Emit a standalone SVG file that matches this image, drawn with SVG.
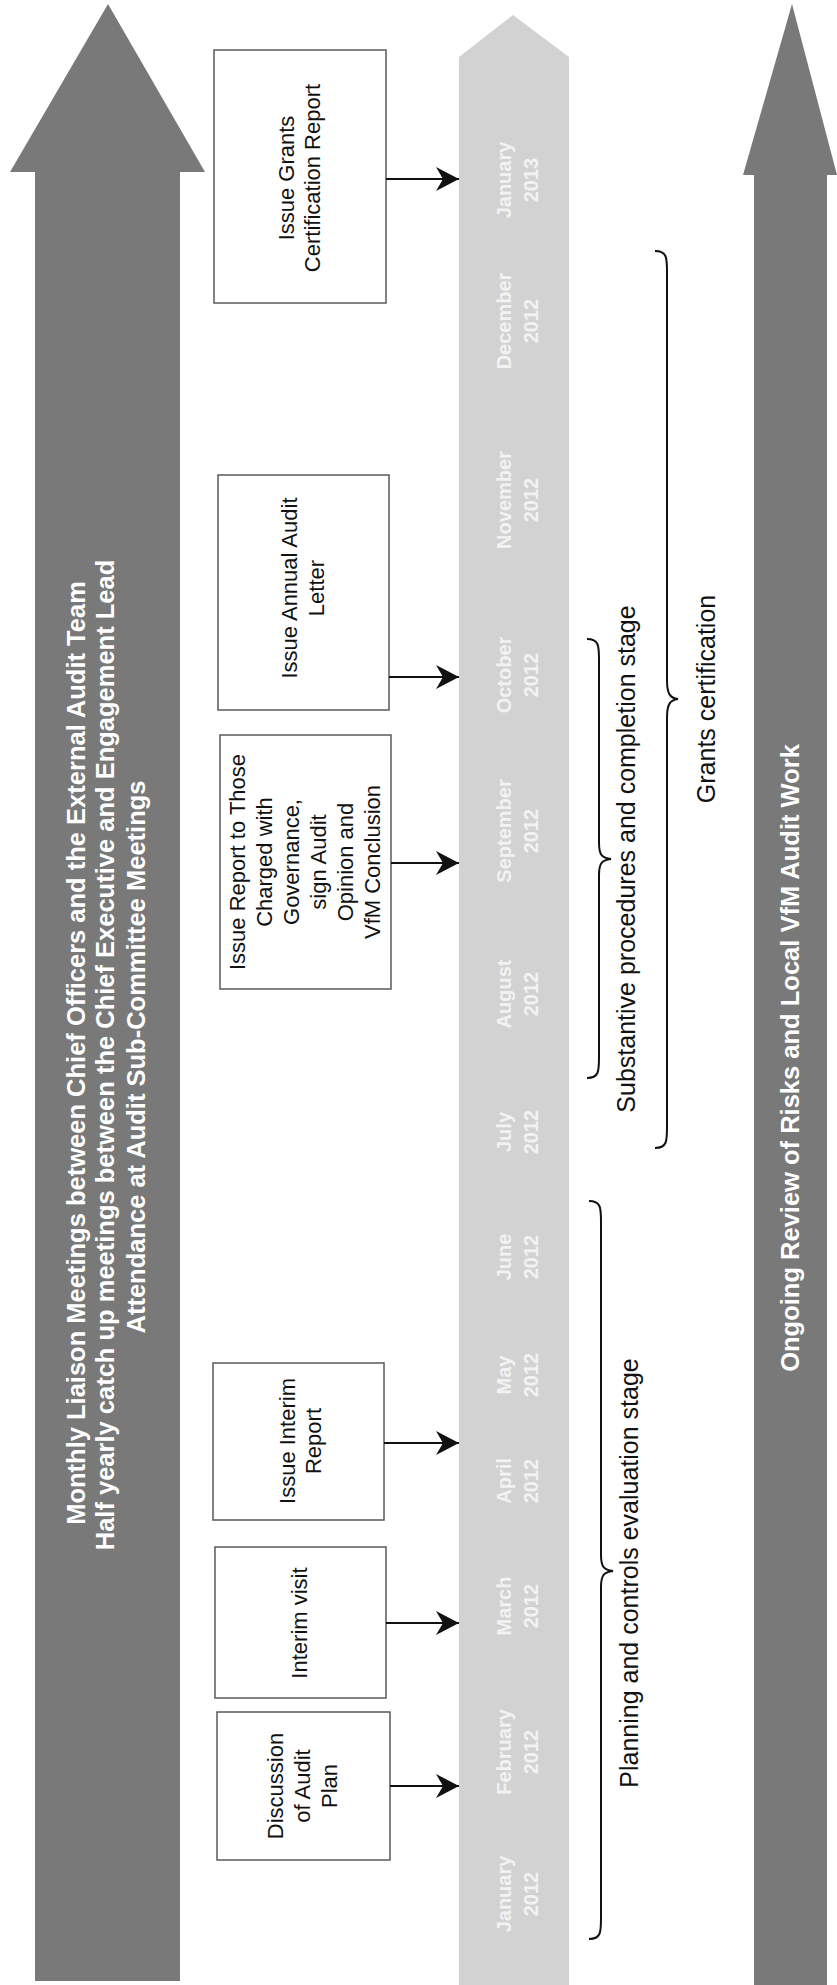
<svg xmlns="http://www.w3.org/2000/svg" width="837" height="1985" viewBox="0 0 837 1985">
<style>
.bg{fill:#ffffff}
.big{fill:#797979}
.band{fill:#d2d2d2}
.box{fill:#ffffff;stroke:#5a5a5a;stroke-width:1.5}
.bt{font-family:"Liberation Sans",Arial,sans-serif;font-size:22px;fill:#111;text-anchor:middle}
.lbl{font-family:"Liberation Sans",Arial,sans-serif;font-size:25px;fill:#111;text-anchor:middle}
.wt{font-family:"Liberation Sans",Arial,sans-serif;font-size:25.5px;font-weight:bold;fill:#ffffff;text-anchor:middle}
.mt{font-family:"Liberation Sans",Arial,sans-serif;font-size:20px;font-weight:bold;fill:#f2f2f2;text-anchor:middle}
.con{stroke:#111;stroke-width:2.2;fill:none}
.brace{stroke:#111;stroke-width:2;fill:none}
</style>
<defs>
<marker id="dart" markerUnits="userSpaceOnUse" markerWidth="24" markerHeight="24" refX="23" refY="12" orient="auto">
<path d="M0,0 L23,12 L0,24 L7,12 Z" fill="#111"/>
</marker>
</defs>
<rect class="bg" x="0" y="0" width="837" height="1985"/>

<g id="liaison-arrow">
<polygon class="big" points="108,4 205,172 180,172 180,1981 35,1981 35,172 10,172"/>
<text class="wt" transform="translate(85,1053) rotate(-90)">Monthly Liaison Meetings between Chief Officers and the External Audit Team</text>
<text class="wt" transform="translate(114,1055) rotate(-90)">Half yearly catch up meetings between the Chief Executive and Engagement Lead</text>
<text class="wt" transform="translate(145,1057) rotate(-90)">Attendance at Audit Sub-Committee Meetings</text>
</g>

<g id="review-arrow">
<polygon class="big" points="792,4 837,175 827,175 827,1985 754,1985 754,175 743,175"/>
<text class="wt" transform="translate(799,1058) rotate(-90)">Ongoing Review of Risks and Local VfM Audit Work</text>
</g>

<g id="timeline">
<polygon class="band" points="513,15 569,57 569,1985 459,1985 459,57"/>
<g id="months">
<text class="mt" transform="translate(511,180) rotate(-90)">January</text><text class="mt" transform="translate(538,180) rotate(-90)">2013</text>
<text class="mt" transform="translate(511,321) rotate(-90)">December</text><text class="mt" transform="translate(538,321) rotate(-90)">2012</text>
<text class="mt" transform="translate(511,500) rotate(-90)">November</text><text class="mt" transform="translate(538,500) rotate(-90)">2012</text>
<text class="mt" transform="translate(511,675) rotate(-90)">October</text><text class="mt" transform="translate(538,675) rotate(-90)">2012</text>
<text class="mt" transform="translate(511,831) rotate(-90)">September</text><text class="mt" transform="translate(538,831) rotate(-90)">2012</text>
<text class="mt" transform="translate(511,994) rotate(-90)">August</text><text class="mt" transform="translate(538,994) rotate(-90)">2012</text>
<text class="mt" transform="translate(511,1132) rotate(-90)">July</text><text class="mt" transform="translate(538,1132) rotate(-90)">2012</text>
<text class="mt" transform="translate(511,1257) rotate(-90)">June</text><text class="mt" transform="translate(538,1257) rotate(-90)">2012</text>
<text class="mt" transform="translate(511,1375) rotate(-90)">May</text><text class="mt" transform="translate(538,1375) rotate(-90)">2012</text>
<text class="mt" transform="translate(511,1481) rotate(-90)">April</text><text class="mt" transform="translate(538,1481) rotate(-90)">2012</text>
<text class="mt" transform="translate(511,1606) rotate(-90)">March</text><text class="mt" transform="translate(538,1606) rotate(-90)">2012</text>
<text class="mt" transform="translate(511,1752) rotate(-90)">February</text><text class="mt" transform="translate(538,1752) rotate(-90)">2012</text>
<text class="mt" transform="translate(511,1894) rotate(-90)">January</text><text class="mt" transform="translate(538,1894) rotate(-90)">2012</text>
</g>
</g>

<g id="box-grants">
<rect class="box" x="214" y="50" width="172" height="253"/>
<text class="bt" transform="translate(294,178) rotate(-90)">Issue Grants</text>
<text class="bt" transform="translate(320,178) rotate(-90)">Certification Report</text>
</g>

<g id="box-annual">
<rect class="box" x="218" y="475" width="171" height="235"/>
<text class="bt" transform="translate(297,588) rotate(-90)">Issue Annual Audit</text>
<text class="bt" transform="translate(324,588) rotate(-90)">Letter</text>
</g>

<g id="box-report">
<rect class="box" x="220" y="735" width="171" height="254"/>
<text class="bt" transform="translate(245,862) rotate(-90)">Issue Report to Those</text>
<text class="bt" transform="translate(272,862) rotate(-90)">Charged with</text>
<text class="bt" transform="translate(299,862) rotate(-90)">Governance,</text>
<text class="bt" transform="translate(326,862) rotate(-90)">sign Audit</text>
<text class="bt" transform="translate(353,862) rotate(-90)">Opinion and</text>
<text class="bt" transform="translate(380,862) rotate(-90)">VfM Conclusion</text>
</g>

<g id="box-interim-report">
<rect class="box" x="213" y="1363" width="171" height="157"/>
<text class="bt" transform="translate(295,1441) rotate(-90)">Issue Interim</text>
<text class="bt" transform="translate(321,1441) rotate(-90)">Report</text>
</g>

<g id="box-interim-visit">
<rect class="box" x="215" y="1547" width="171" height="151"/>
<text class="bt" transform="translate(307,1623) rotate(-90)">Interim visit</text>
</g>

<g id="box-discussion">
<rect class="box" x="217" y="1712" width="173" height="148"/>
<text class="bt" transform="translate(283,1786) rotate(-90)">Discussion</text>
<text class="bt" transform="translate(310,1786) rotate(-90)">of Audit</text>
<text class="bt" transform="translate(337,1786) rotate(-90)">Plan</text>
</g>

<g id="connectors">
<line class="con" x1="386" y1="179" x2="459" y2="179" marker-end="url(#dart)"/>
<line class="con" x1="389" y1="677" x2="459" y2="677" marker-end="url(#dart)"/>
<line class="con" x1="391" y1="863" x2="459" y2="863" marker-end="url(#dart)"/>
<line class="con" x1="384" y1="1443" x2="459" y2="1443" marker-end="url(#dart)"/>
<line class="con" x1="386" y1="1623" x2="459" y2="1623" marker-end="url(#dart)"/>
<line class="con" x1="390" y1="1786" x2="459" y2="1786" marker-end="url(#dart)"/>
</g>

<g id="brace-grants">
<path class="brace" d="M655,251 C667,251 667,258 667,272 L667,680 C667,694 670,698 678,699 C670,700 667,704 667,718 L667,1127 C667,1141 667,1148 655,1148"/>
<text class="lbl" transform="translate(715,699) rotate(-90)">Grants certification</text>
</g>

<g id="brace-substantive">
<path class="brace" d="M587,639 C599,639 599,646 599,660 L599,843 C599,855 602,858 611,859 C602,860 599,863 599,875 L599,1057 C599,1071 599,1078 587,1078"/>
<text class="lbl" transform="translate(635,859) rotate(-90)">Substantive procedures and completion stage</text>
</g>

<g id="brace-planning">
<path class="brace" d="M589,1201 C601,1201 601,1208 601,1222 L601,1555 C601,1567 604,1570 613,1571 C604,1572 601,1575 601,1587 L601,1918 C601,1932 601,1939 589,1939"/>
<text class="lbl" transform="translate(638,1573) rotate(-90)">Planning and controls evaluation stage</text>
</g>
</svg>
